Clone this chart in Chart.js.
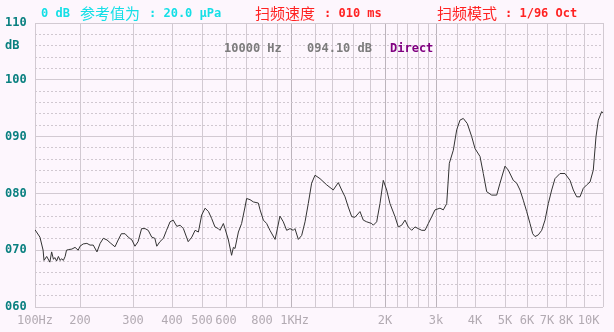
<!DOCTYPE html>
<html>
<head>
<meta charset="utf-8">
<script src="https://cdn.jsdelivr.net/npm/chart.js@4.4.1/dist/chart.umd.min.js"></script>
<style>
  html, body { margin: 0; padding: 0; background: #fdf6fd; }
  canvas { display: block; }
</style>
</head>
<body>
<canvas id="chart" width="614" height="332"></canvas>
<script>
// sweep readout (frequency in Hz, level in dB)
const freqHz = [
  100, 111, 118, 120, 126, 133, 137, 141, 144, 148,
  152, 156, 159, 163, 167, 170, 174, 182, 189, 196,
  200, 206, 213, 219, 225, 232, 238, 244, 251, 257,
  266, 272, 278, 285, 291, 298, 305, 313, 322, 331,
  339, 348, 356, 361, 369, 378, 386, 395, 404, 416,
  427, 438, 454, 466, 477, 488, 499, 513, 527, 540,
  554, 568, 575, 589, 596, 612, 628, 637, 645, 662,
  678, 695, 704, 725, 746, 777, 788, 809, 831, 853,
  887, 898, 921, 945, 969, 993, 1019, 1033, 1061, 1089,
  1117, 1144, 1172, 1200, 1259, 1338, 1412, 1460, 1492, 1524,
  1555, 1588, 1624, 1682, 1721, 1761, 1823, 1844, 1889, 1933,
  1977, 2028, 2083, 2167, 2226, 2294, 2360, 2424, 2485, 2545,
  2606, 2674, 2740, 2808, 2893, 2975, 3095, 3174, 3255, 3317,
  3412, 3493, 3583, 3675, 3786, 3908, 4000, 4167, 4277, 4390,
  4557, 4723, 4833, 5000, 5150, 5377, 5532, 5682, 5832, 5986,
  6150, 6285, 6400, 6565, 6735, 6900, 7068, 7247, 7421, 7684,
  7947, 8222, 8406, 8594, 8778, 8961, 9142, 9316, 9489, 9632,
  9753, 9932, 10000
];
const levelDb = [
  73.6, 72.3, 70.0, 68.2, 68.9, 67.9, 69.7, 68.4, 68.7, 68.1,
  68.9, 68.2, 68.5, 68.2, 68.9, 70.0, 70.1, 70.2, 70.5, 70.0,
  70.7, 71.1, 71.2, 70.9, 70.9, 69.7, 71.2, 72.1, 71.8, 71.3,
  70.6, 71.8, 72.9, 72.9, 72.3, 71.8, 70.7, 71.5, 73.8, 73.8,
  73.5, 72.3, 72.1, 70.7, 71.5, 72.1, 73.5, 75.0, 75.3, 74.2,
  74.4, 73.8, 71.5, 72.3, 73.5, 73.2, 76.2, 77.4, 76.8, 75.6,
  74.1, 73.8, 73.5, 74.7, 73.8, 71.8, 69.1, 70.5, 70.3, 73.2,
  74.7, 77.6, 79.1, 78.9, 78.5, 78.3, 77.1, 75.3, 74.7, 73.5,
  71.9, 73.2, 76.0, 75.0, 73.5, 73.8, 73.5, 73.8, 71.9, 72.6,
  75.0, 78.2, 81.8, 83.2, 82.6, 81.5, 80.6, 81.9, 80.6, 79.4,
  77.6, 75.9, 75.8, 76.8, 75.3, 75.0, 74.7, 74.4, 75.0, 78.2,
  82.3, 80.6, 78.2, 75.9, 74.1, 74.4, 75.3, 74.1, 73.5, 74.1,
  73.8, 73.5, 73.5, 74.7, 75.9, 77.1, 77.4, 77.1, 78.2, 85.3,
  87.6, 91.2, 92.9, 93.2, 92.3, 90.0, 87.9, 86.5, 83.5, 80.3,
  79.7, 79.7, 81.8, 84.8, 84.1, 82.3, 81.8, 80.6, 78.8, 76.8,
  74.7, 72.9, 72.4, 72.7, 73.5, 75.3, 78.2, 80.6, 82.6, 83.5,
  83.5, 82.3, 80.6, 79.4, 79.4, 80.9, 81.5, 82.0, 84.1, 90.0,
  92.9, 94.4, 94.1
];

// frequency grid of the instrument and the labels it prints
const gridHz = [100, 200, 300, 400, 500, 600, 700, 800, 900, 1000,
  1200, 1400, 1600, 1800, 2000, 2200, 2400, 2600, 2800, 3000,
  3500, 4000, 5000, 6000, 7000, 8000, 9000, 10000];
const freqLabels = {
  100: '100Hz', 200: '200', 300: '300', 400: '400', 500: '500', 600: '600',
  800: '800', 1000: ' 1KHz', 2000: '2K', 3000: '3k', 4000: '4K', 5000: '5K',
  6000: '6K', 7000: '7K', 8000: '8K', 10000: '10K    '
};
const dbTicks = [60, 70, 80, 90, 100, 110];

// header readouts
const refText = ['0 dB', '参考值为', ': 20.0 μPa'];
const speedText = ['扫频速度', ': 010 ms'];
const modeText = ['扫频模式', ': 1/96 Oct'];
const cursorText = ['10000 Hz', '094.10 dB', 'Direct'];

// the instrument's frequency axis is neither linear nor log: screen position of each grid line
const warpPx = [35, 80, 133, 172, 202, 226, 246, 262, 277, 291,
  315, 332, 353, 370, 385, 397, 407, 418, 428, 436,
  457, 475, 505, 527, 547, 566, 584, 603];

function warp(v) {
  const n = gridHz.length;
  const span = warpPx[n - 1] - warpPx[0];
  if (v <= gridHz[0]) return 0;
  if (v >= gridHz[n - 1]) return 1;
  for (let i = 0; i < n - 1; i++) {
    if (v <= gridHz[i + 1]) {
      const t = (v - gridHz[i]) / (gridHz[i + 1] - gridHz[i]);
      return (warpPx[i] + t * (warpPx[i + 1] - warpPx[i]) - warpPx[0]) / span;
    }
  }
  return 1;
}

function unwarp(d) {
  const n = gridHz.length;
  const px = warpPx[0] + d * (warpPx[n - 1] - warpPx[0]);
  for (let i = 0; i < n - 1; i++) {
    if (px <= warpPx[i + 1]) {
      const t = (px - warpPx[i]) / (warpPx[i + 1] - warpPx[i]);
      return gridHz[i] + t * (gridHz[i + 1] - gridHz[i]);
    }
  }
  return gridHz[n - 1];
}

class WarpScale extends Chart.LinearScale {
  getPixelForValue(value) {
    if (value === null || value === undefined) return NaN;
    return this.getPixelForDecimal(warp(value));
  }
  getValueForPixel(pixel) {
    return unwarp(this.getDecimalForPixel(pixel));
  }
}
WarpScale.id = 'warp';
WarpScale.defaults = Chart.LinearScale.defaults;
Chart.register(WarpScale);

const mono = '"DejaVu Sans Mono", "Liberation Mono", monospace';
const cjk = '"Noto Sans CJK SC", sans-serif';

const screenText = {
  id: 'screenText',
  beforeDraw(chart) {
    const ctx = chart.ctx;
    ctx.save();
    ctx.fillStyle = '#fdf6fd';
    ctx.fillRect(0, 0, chart.width, chart.height);
    ctx.restore();
  },
  afterDraw(chart) {
    const ctx = chart.ctx;
    ctx.save();
    ctx.textBaseline = 'middle';
    ctx.textAlign = 'left';

    ctx.fillStyle = '#14dfe6';
    ctx.font = 'bold 12px ' + mono;
    ctx.fillText(refText[0], 41, 14);
    ctx.font = '15px ' + cjk;
    ctx.fillText(refText[1], 80, 13);
    ctx.font = 'bold 12px ' + mono;
    ctx.fillText(refText[2], 149, 14);

    ctx.fillStyle = '#ff2222';
    ctx.font = '15px ' + cjk;
    ctx.fillText(speedText[0], 255, 13);
    ctx.font = 'bold 12px ' + mono;
    ctx.fillText(speedText[1], 324, 14);
    ctx.font = '15px ' + cjk;
    ctx.fillText(modeText[0], 437, 13);
    ctx.font = 'bold 12px ' + mono;
    ctx.fillText(modeText[1], 505, 14);

    ctx.font = 'bold 12px ' + mono;
    ctx.fillStyle = '#7c7c7c';
    ctx.fillText(cursorText[0], 224, 49);
    ctx.fillText(cursorText[1], 307, 49);
    ctx.fillStyle = '#800080';
    ctx.fillText(cursorText[2], 390, 49);
    ctx.restore();
  }
};

new Chart(document.getElementById('chart'), {
  type: 'line',
  data: {
    datasets: [{
      label: 'Direct',
      data: freqHz.map((f, i) => ({ x: f, y: levelDb[i] })),
      borderColor: '#333333',
      borderWidth: 1,
      pointRadius: 0,
      tension: 0,
      fill: false
    }]
  },
  options: {
    responsive: false,
    animation: false,
    devicePixelRatio: 1,
    layout: { padding: { top: 23, right: 11, left: 5, bottom: 0 } },
    plugins: {
      legend: { display: false },
      tooltip: { enabled: false }
    },
    scales: {
      x: {
        type: 'warp',
        min: 100,
        max: 10000,
        afterBuildTicks: (scale) => {
          scale.ticks = gridHz.map(v => ({ value: v }));
        },
        afterFit: (scale) => {
          scale.height = 25;
          scale.paddingLeft = 0;
          scale.paddingRight = 0;
        },
        grid: {
          drawTicks: false,
          lineWidth: 1,
          color: (ctx) => [1000, 2000, 3000].includes(ctx.tick && ctx.tick.value) ? '#bcb4bc' : '#d2cad2'
        },
        border: { display: false },
        ticks: {
          autoSkip: false,
          maxRotation: 0,
          minRotation: 0,
          padding: 7,
          color: '#b2aab2',
          font: { family: mono, size: 12 },
          callback: (v) => freqLabels[v] || ''
        }
      },
      y: {
        min: 60,
        max: 110,
        afterFit: (scale) => { scale.width = 30; },
        grid: {
          drawTicks: false,
          color: (ctx) => ctx.tick && ctx.tick.value % 10 === 0 ? '#d2cad2' : '#d0c8d0'
        },
        border: {
          display: false,
          dash: (ctx) => ctx.tick && ctx.tick.value % 10 !== 0 ? [2, 2] : []
        },
        ticks: {
          stepSize: 2,
          autoSkip: false,
          crossAlign: 'far',
          color: '#0a8080',
          font: { family: mono, size: 12, weight: 'bold' },
          callback: (v) => {
            if (v === 106) return 'dB';
            return dbTicks.includes(v) ? String(v).padStart(3, '0') : '';
          }
        }
      }
    }
  },
  plugins: [screenText]
});
</script>
</body>
</html>
